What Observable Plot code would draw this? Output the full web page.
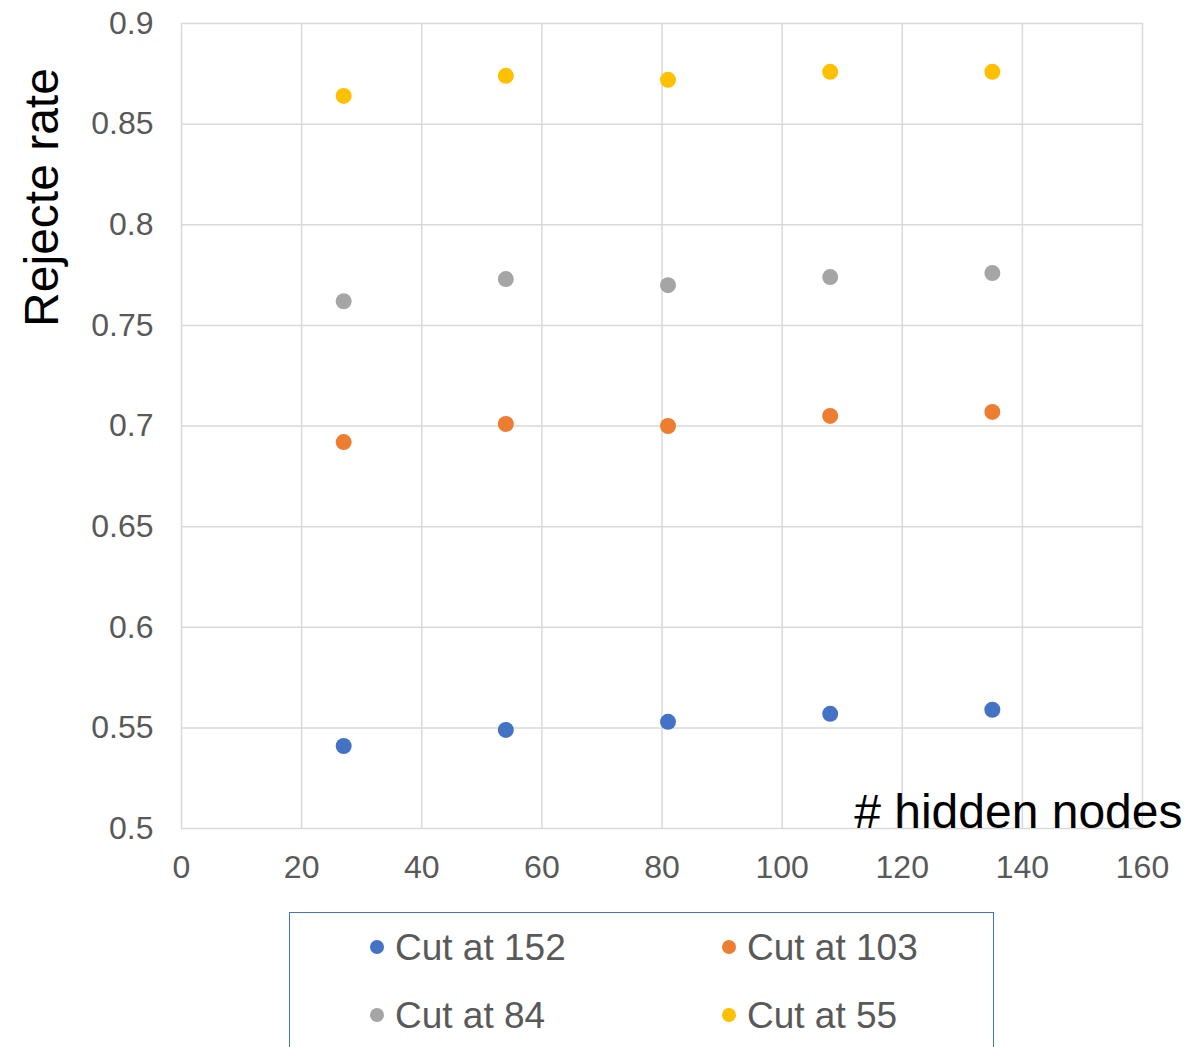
<!DOCTYPE html>
<html>
<head>
<meta charset="utf-8">
<script src="https://cdn.jsdelivr.net/npm/d3@7"></script>
<script src="https://cdn.jsdelivr.net/npm/@observablehq/plot@0.6"></script>
<style>
  html, body { margin: 0; padding: 0; background: #fff; overflow: hidden; }
  #wrap { position: relative; width: 1187px; height: 1047px; font-family: "Liberation Sans", Arial, sans-serif; }
  #legend { position: absolute; left: 289px; top: 912px; width: 705px; height: 200px;
            border: 1.5px solid #4472C4; box-sizing: border-box; }
  .item { position: absolute; display: flex; align-items: center; font-size: 37px; color: #595959; line-height: 1; white-space: nowrap; }
  .sw { width: 14px; height: 14px; border-radius: 50%; margin-right: 11px; }
</style>
</head>
<body>
<div id="wrap"><div id="chart"></div><div id="legend"></div></div>
<script>
// ---- data ----
const hiddenNodes = [27, 54, 81, 108, 135];
const seriesNames = ["Cut at 152", "Cut at 103", "Cut at 84", "Cut at 55"];
const cut152 = [0.541, 0.549, 0.553, 0.557, 0.559];
const cut103 = [0.692, 0.701, 0.700, 0.705, 0.707];
const cut84  = [0.762, 0.773, 0.770, 0.774, 0.776];
const cut55  = [0.864, 0.874, 0.872, 0.876, 0.876];
const seriesColors = ["#4472C4", "#ED7D31", "#A5A5A5", "#FFC000"];
const xTicks = [0, 20, 40, 60, 80, 100, 120, 140, 160];
const yTicks = [0.5, 0.55, 0.6, 0.65, 0.7, 0.75, 0.8, 0.85, 0.9];
const xTitle = "# hidden nodes";
const yTitle = "Rejecte rate";

const seriesValues = [cut152, cut103, cut84, cut55];
const data = [];
seriesNames.forEach((name, i) => {
  hiddenNodes.forEach((x, j) => data.push({series: name, x, y: seriesValues[i][j]}));
});

const fmt = d => String(+d.toFixed(2));

const chart = Plot.plot({
  width: 1187,
  height: 900,
  marginTop: 23,
  marginBottom: 72,
  marginLeft: 181,
  marginRight: 45,
  style: { fontFamily: "'Liberation Sans', Arial, sans-serif", background: "#fff", overflow: "visible" },
  x: { domain: [0, 160] },
  y: { domain: [0.5, 0.9] },
  color: { domain: seriesNames, range: seriesColors },
  marks: [
    Plot.gridX(xTicks, { stroke: "#d9d9d9", strokeOpacity: 1, strokeWidth: 1.5 }),
    Plot.gridY(yTicks, { stroke: "#d9d9d9", strokeOpacity: 1, strokeWidth: 1.5 }),
    Plot.axisX(xTicks, { tickSize: 0, tickPadding: 27, fontSize: 32, color: "#595959", label: null, tickFormat: fmt }),
    Plot.axisY(yTicks, { tickSize: 0, tickPadding: 28, fontSize: 32, color: "#595959", label: null, tickFormat: fmt }),
    Plot.dot(data, { x: "x", y: "y", fill: "series", r: 8, stroke: null }),
    Plot.text([yTitle], { text: d => d, frameAnchor: "top-left", dx: -139, dy: 174, rotate: -90,
      fontSize: 48, fill: "#000", textAnchor: "middle", lineAnchor: "middle" }),
    Plot.text([xTitle], { text: d => d, frameAnchor: "bottom-right", dx: 40, dy: -16,
      fontSize: 48, fill: "#000", textAnchor: "end", lineAnchor: "middle" })
  ]
});
document.getElementById("chart").appendChild(chart);

// legend
const legend = document.getElementById("legend");
const pos = [[80, 34], [432, 34], [80, 102], [432, 102]];
seriesNames.forEach((name, i) => {
  const it = document.createElement("div");
  it.className = "item";
  it.style.left = pos[i][0] + "px";
  it.style.top = (pos[i][1] - 20) + "px";
  it.style.height = "40px";
  const sw = document.createElement("span");
  sw.className = "sw";
  sw.style.background = seriesColors[i];
  const tx = document.createElement("span");
  tx.textContent = name;
  it.appendChild(sw); it.appendChild(tx);
  legend.appendChild(it);
});
</script>
</body>
</html>
